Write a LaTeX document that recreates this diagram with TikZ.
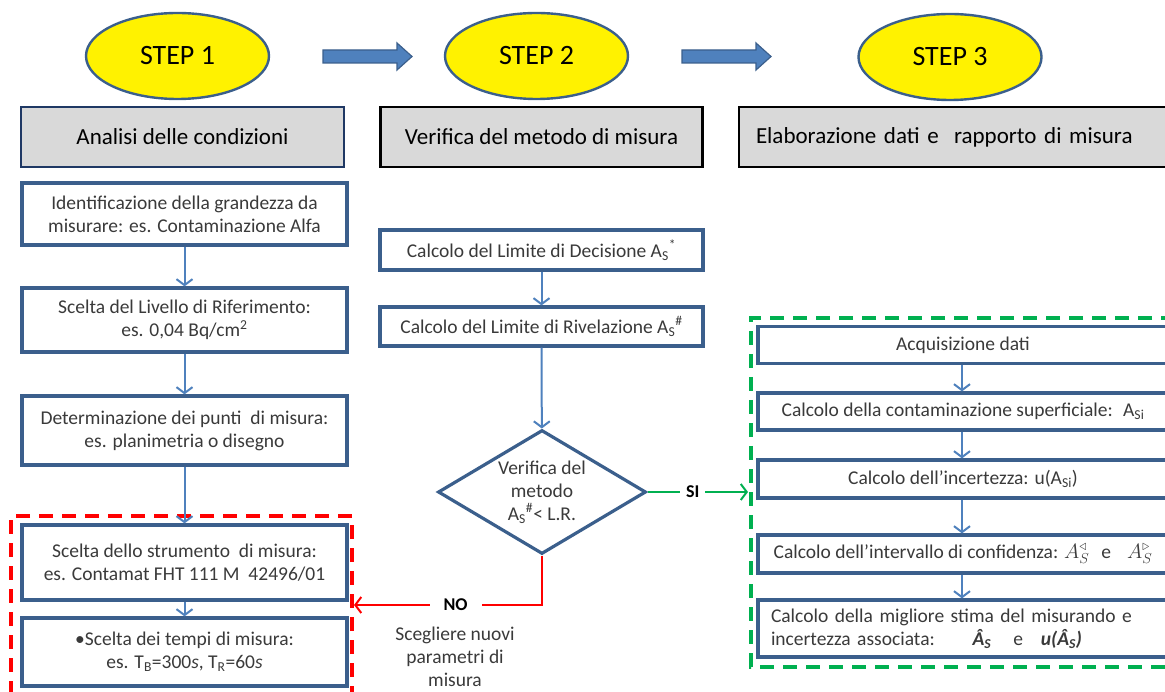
\documentclass[tikz,border=0pt]{standalone}
\usepackage{amsmath}
\usepackage{fontspec}
\setmainfont{Carlito}
\usetikzlibrary{shapes.geometric,arrows.meta,calc}
\definecolor{boxblue}{HTML}{3B5F8C}
\definecolor{arrblue}{HTML}{4F81BD}
\definecolor{headgray}{HTML}{D9D9D9}
\definecolor{txtgray}{HTML}{3A3A3A}
\definecolor{okgreen}{HTML}{00B050}
\definecolor{nored}{HTML}{FF0000}
\definecolor{navy}{HTML}{1F3864}
\newcommand{\bodyfnt}{\fontsize{19.5}{23}\selectfont}
\newcommand{\headfnt}{\fontsize{23}{26}\selectfont}
\newcommand{\stepfnt}{\fontsize{28}{32}\selectfont}
\begin{document}
\begin{tikzpicture}[x=1pt,y=-1pt,
  stepell/.style={ellipse, draw=boxblue, line width=2.4pt, fill=yellow, minimum width=183pt, minimum height=86pt, font=\stepfnt, inner sep=0pt},
  headbox/.style={draw, line width=2.8pt, fill=headgray, font=\headfnt, minimum height=60pt, inner sep=0pt},
  box/.style={draw=boxblue, line width=3.2pt, fill=white, text=txtgray, font=\bodyfnt, align=center, inner sep=0pt},
  conn/.style={draw=arrblue, line width=2pt, -{Straight Barb[length=6pt,width=16pt,line width=2pt]}},
  blockarrow/.style={fill=arrblue, draw=boxblue, line width=1.2pt},
  dashbox/.style={line width=3.6pt, dash pattern=on 14pt off 9pt},
  lbl/.style={font=\bfseries\fontsize{18}{20}\selectfont, fill=white, inner sep=6pt}
]
\useasboundingbox (0,0) rectangle (1165,692);

% step ellipses
\node[stepell] (s1) at (177.5,56) {STEP 1};
\node[stepell] (s2) at (536.5,56) {STEP 2};
\node[stepell] (s3) at (950,57) {STEP 3};

% block arrows
\coordinate (a1s) at (323,56.5);
\coordinate (a2s) at (682,56.5);
\foreach \c in {a1s,a2s}{
  \draw[blockarrow] ($(\c)+(0,-6.5)$) -- ++(74,0) -- ++(0,-7) -- ++(15,13.5) -- ++(-15,13.5) -- ++(0,-7) -- ++(-74,0) -- cycle;
}

% header boxes
\node[headbox, draw=navy, minimum width=323pt] (h1) at (182.5,137) {Analisi delle condizioni};
\node[headbox, draw=black, minimum width=322pt] (h2) at (541.5,137) {Verifica del metodo di misura};
\node[headbox, draw=black, minimum width=440pt, text width=426pt, align=left] (h3) at (959,137) {\hspace*{10pt}Elaborazione dati e \ rapporto di misura};

% left column
\node[box, minimum width=325pt, minimum height=62pt] (A) at (184.5,214) {Identificazione della grandezza da\\misurare: es. Contaminazione Alfa};
\node[box, minimum width=325pt, minimum height=64pt] (B) at (184.5,320) {Scelta del Livello di Riferimento:\\es. 0,04 Bq/cm\textsuperscript{2}};
\node[box, minimum width=325pt, minimum height=69pt] (C) at (184.5,430.5) {Determinazione dei punti \ di misura:\\es. planimetria o disegno};
\node[box, minimum width=325pt, minimum height=75pt] (D) at (184.5,562.5) {Scelta dello strumento \ di misura:\\es. Contamat FHT 111 M \ 42496/01};
\node[box, minimum width=325pt, minimum height=68pt] (E) at (184.5,652) {\textbullet Scelta dei tempi di misura:\\es. T\textsubscript{B}=300\textit{s}, T\textsubscript{R}=60\textit{s}};

% red dashed group
\draw[dashbox, draw=nored] (352,700) -- (352,516) -- (11,516) -- (11,700);

% middle column
\node[box, minimum width=323pt, minimum height=40pt] (F) at (541.5,250) {Calcolo del Limite di Decisione A\textsubscript{S}\textsuperscript{*}};
\node[box, minimum width=323pt, minimum height=39pt] (G) at (541.5,326.5) {Calcolo del Limite di Rivelazione A\textsubscript{S}\textsuperscript{\#}};
\node[diamond, draw=boxblue, line width=3.2pt, fill=white, text=txtgray, font=\bodyfnt, align=center, minimum width=208pt, minimum height=124pt, aspect=1.68, inner sep=0pt] (V) at (542,492) {\fontsize{19.5}{24}\selectfont Verifica del\\metodo\\A\textsubscript{S}\textsuperscript{\#}< L.R.};

% right column group
\draw[dashbox, draw=okgreen] (1175,318) -- (751,318) -- (751,667) -- (1175,667);
\node[box, minimum width=410pt, minimum height=37pt] (H) at (963,345) {Acquisizione dati};
\node[box, minimum width=410pt, minimum height=37pt] (I) at (963,411.5) {Calcolo della contaminazione superficiale: \ A\textsubscript{Si}};
\node[box, minimum width=410pt, minimum height=38pt] (J) at (963,479) {Calcolo dell’incertezza: u(A\textsubscript{Si})};
\node[box, minimum width=410pt, minimum height=38pt] (K) at (963,554) {Calcolo dell’intervallo di confidenza: $A_S^{\triangleleft}$\hspace{12pt}e\hspace{16pt}$A_S^{\triangleright}$};
\node[box, minimum width=410pt, minimum height=57pt, text width=384pt, align=left] (L) at (963,628.5) {\fontsize{19.5}{24}\selectfont Calcolo della migliore stima del misurando e\\incertezza associata: \hspace{28pt}\textbf{\textit{Â\textsubscript{S}}}\hspace{22pt}e\hspace{18pt}\textbf{\textit{u(Â\textsubscript{S})}}};

% connectors
\draw[conn] (A) -- (B);
\draw[conn] (B) -- (C);
\draw[conn] (C) -- (D);
\draw[conn] (D) -- (E);
\draw[conn] (F) -- (G);
\draw[conn] (G) -- (V);
\draw[conn] (H.south -| 962,0) -- (I.north -| 962,0);
\draw[conn] (I.south -| 962,0) -- (J.north -| 962,0);
\draw[conn] (J.south -| 962,0) -- (K.north -| 962,0);
\draw[conn] (K.south -| 962,0) -- (L.north -| 962,0);

% SI branch
\coordinate (gin) at (748,492);
\draw[okgreen, line width=2pt, -{Straight Barb[length=6pt,width=16pt,line width=2pt]}] (V.east) -- node[lbl, text=black, pos=0.45] (si) {SI} (gin);

% NO branch
\coordinate (rin) at (354,605);
\coordinate (rcorner) at (542,605);
\draw[nored, line width=2pt, -{Straight Barb[length=6pt,width=16pt,line width=2pt]}] (V.south) -- (rcorner) -- node[lbl, text=black, pos=0.46, inner xsep=14pt] (no) {NO} (rin);
\node[text=txtgray, font=\bodyfnt, align=center, anchor=north] (scegli) at (455,623) {Scegliere nuovi\\parametri di\\misura};
\end{tikzpicture}
\end{document}
